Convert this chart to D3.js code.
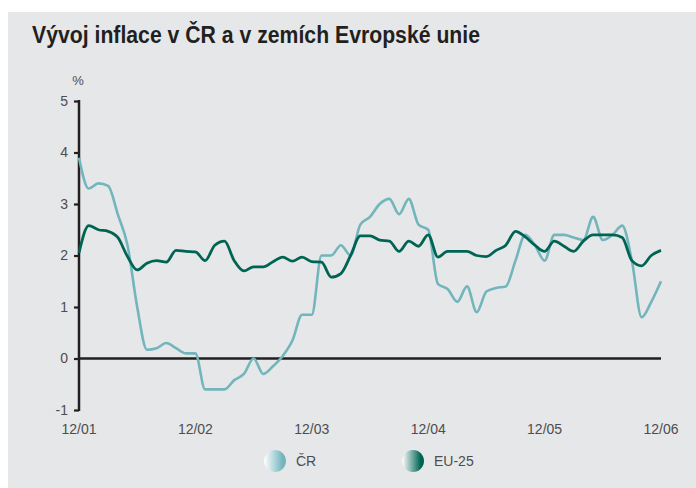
<!DOCTYPE html>
<html lang="cs">
<head>
<meta charset="utf-8">
<title>Vývoj inflace</title>
<style>
  body { margin: 0; background: #fff; }
  text { font-family: "Liberation Sans Narrow", "Liberation Sans", sans-serif; }
</style>
</head>
<body>
<svg id="chart"></svg>
<script src="https://d3js.org/d3.v7.min.js"></script>
<script>
const xTicks = ['12/01', '12/02', '12/03', '12/04', '12/05', '12/06'];
const yTicks = [-1, 0, 1, 2, 3, 4, 5];

// monthly values, 12/01 .. 12/06
const cr = [3.9, 3.3, 3.4, 3.35, 2.8, 2.2, 1.0, 0.17, 0.2, 0.3, 0.2, 0.1,
  0.1, -0.6, -0.6, -0.6, -0.42, -0.3, 0.0, -0.3, -0.15, 0.05, 0.35, 0.85,
  0.85, 2.0, 2.0, 2.2, 2.0, 2.6, 2.75, 3.0, 3.1, 2.8, 3.1, 2.6,
  2.5, 1.45, 1.35, 1.1, 1.4, 0.9, 1.3, 1.37, 1.4, 1.9, 2.4, 2.2,
  1.9, 2.4, 2.4, 2.35, 2.3, 2.75, 2.3, 2.4, 2.58, 1.9, 0.8, 1.1, 1.5];
const eu = [2.05, 2.58, 2.5, 2.47, 2.35, 1.98, 1.72, 1.85, 1.9, 1.87, 2.1, 2.08,
  2.07, 1.9, 2.2, 2.28, 1.9, 1.7, 1.78, 1.78, 1.88, 1.97, 1.89, 1.97,
  1.88, 1.87, 1.58, 1.65, 2.0, 2.38, 2.38, 2.3, 2.28, 2.08, 2.28, 2.18,
  2.4, 1.97, 2.08, 2.08, 2.08, 2.0, 1.98, 2.1, 2.2, 2.47, 2.36, 2.2,
  2.08, 2.28, 2.18, 2.08, 2.28, 2.4, 2.4, 2.4, 2.35, 1.9, 1.8, 2.0, 2.1];
const seriesNames = ['ČR', 'EU-25'];
const colors = ['#72b5bc', '#006453'];

const width = 696, height = 488;
const svg = d3.select('#chart').attr('width', width).attr('height', height);

// grey panel
svg.append('rect').attr('x', 8).attr('y', 12).attr('width', width - 8).attr('height', height - 12)
  .attr('fill', '#e6e7e8');

svg.append('text').attr('x', 32).attr('y', 43)
  .text('Vývoj inflace v ČR a v zemích Evropské unie')
  .style('font-size', '23px').style('font-weight', 'bold').attr('fill', '#231f20')
  .attr('textLength', 448).attr('lengthAdjust', 'spacingAndGlyphs');

const x = d3.scaleLinear().domain([0, 60]).range([79, 661]);
const y = d3.scaleLinear().domain([-1, 5]).range([410, 101]);

// y axis
const yAxis = svg.append('g').attr('transform', 'translate(79,0)')
  .call(d3.axisLeft(y).tickValues(yTicks).tickSize(5).tickPadding(6).tickFormat(d => String(d)));
yAxis.select('.domain').remove();
yAxis.selectAll('line').attr('stroke', '#231f20').attr('stroke-width', 2.2);
yAxis.selectAll('text').style('font-size', '14px').attr('fill', '#4d4d4f');
svg.append('line').attr('x1', 79).attr('x2', 79).attr('y1', y(5) - 1).attr('y2', y(-1) + 1)
  .attr('stroke', '#231f20').attr('stroke-width', 2.5);

svg.append('text').attr('x', 78).attr('y', 85).attr('text-anchor', 'middle')
  .text('%').style('font-size', '13px').attr('fill', '#4d4d4f');

// x labels
svg.append('g').selectAll('text').data(xTicks).join('text')
  .attr('x', (d, i) => x(i * 12)).attr('y', 434).attr('text-anchor', 'middle')
  .text(d => d).style('font-size', '14px').attr('fill', '#4d4d4f');

// zero line
svg.append('line').attr('x1', 79).attr('x2', x(60)).attr('y1', y(0)).attr('y2', y(0))
  .attr('stroke', '#231f20').attr('stroke-width', 2.5);

const line = d3.line().x((d, i) => x(i)).y(d => y(d)).curve(d3.curveMonotoneX);

[cr, eu].forEach((s, k) => {
  svg.append('path').datum(s).attr('d', line)
    .attr('fill', 'none').attr('stroke', colors[k])
    .attr('stroke-width', k === 0 ? 2.6 : 2.8).attr('stroke-linejoin', 'round');
});

// legend
const defs = svg.append('defs');
colors.forEach((c, k) => {
  const g = defs.append('linearGradient').attr('id', 'grad' + k);
  g.append('stop').attr('offset', '0%').attr('stop-color', '#ffffff');
  g.append('stop').attr('offset', '85%').attr('stop-color', c);
});
const legendX = [275, 413];
const legend = svg.append('g').selectAll('g').data(seriesNames).join('g')
  .attr('transform', (d, i) => 'translate(' + legendX[i] + ',461)');
legend.append('circle').attr('r', 11).attr('fill', (d, i) => 'url(#grad' + i + ')');
legend.append('text').attr('x', 21).attr('y', 5).text(d => d)
  .style('font-size', '14px').attr('fill', '#4d4d4f');
</script>
</body>
</html>
